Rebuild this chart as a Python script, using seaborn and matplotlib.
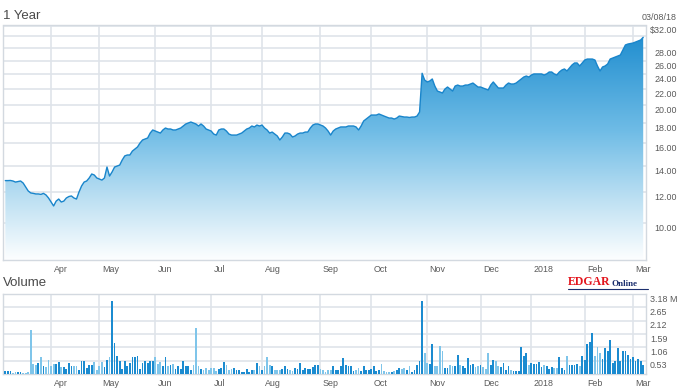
import numpy as np
import pandas as pd
import matplotlib
matplotlib.use("Agg")
import matplotlib.pyplot as plt
import seaborn as sns
from matplotlib.transforms import blended_transform_factory, ScaledTranslation
from matplotlib.colors import LinearSegmentedColormap
from matplotlib.ticker import NullLocator, FixedLocator

# ---------------- data ----------------
price = [12.83,
    12.83, 12.84, 12.80, 12.72, 12.76, 12.80, 12.65, 12.36, 12.07, 11.93,
    11.90, 11.86, 11.86, 11.83, 11.90, 11.79, 11.58, 11.31, 11.05, 11.37,
    11.51, 11.31, 11.37, 11.58, 11.68, 11.72, 11.58, 11.51, 12.00, 12.43,
    12.72, 12.80, 13.03, 13.34, 13.26, 13.03, 12.95, 12.87, 13.03, 13.90,
    13.18, 13.50, 13.90, 13.98, 14.06, 14.49, 14.84, 14.92, 14.92, 15.27,
    15.45, 15.64, 16.01, 16.30, 16.39, 16.49, 16.98, 17.29, 17.18, 17.08,
    16.98, 17.29, 17.49, 17.39, 17.39, 17.29, 17.29, 17.39, 17.49, 17.70,
    17.91, 18.01, 18.12, 18.01, 17.91, 17.70, 17.91, 17.70, 17.39, 17.29,
    17.18, 16.88, 16.78, 17.29, 17.39, 17.39, 17.18, 16.88, 16.78, 16.78,
    16.78, 16.88, 16.98, 17.18, 17.39, 17.49, 17.70, 17.60, 17.80, 17.70,
    17.80, 17.49, 17.29, 16.98, 17.08, 16.88, 16.69, 16.30, 16.59, 16.98,
    16.98, 16.88, 16.59, 16.69, 16.88, 16.98, 16.98, 17.08, 17.08, 17.49,
    17.80, 17.91, 17.91, 17.80, 17.70, 17.49, 17.18, 16.78, 17.18, 17.39,
    17.49, 17.60, 17.60, 17.60, 17.70, 17.70, 17.70, 17.60, 17.29, 17.70,
    18.23, 18.44, 18.66, 18.88, 18.88, 18.88, 19.00, 18.88, 18.77, 18.66,
    18.55, 18.55, 18.44, 18.55, 18.77, 18.72, 18.66, 18.66, 18.61, 18.66,
    18.66, 18.77, 19.22, 24.15, 23.21, 22.94, 23.07, 23.35, 22.40, 21.75,
    21.63, 21.50, 22.01, 22.27, 22.01, 21.75, 22.40, 22.53, 22.40, 22.40,
    22.53, 22.53, 22.67, 22.80, 22.53, 22.27, 22.27, 22.14, 22.01, 21.88,
    22.53, 22.94, 22.53, 22.14, 22.14, 22.14, 22.53, 22.80, 22.67, 22.67,
    22.80, 23.07, 23.35, 23.62, 23.76, 23.62, 23.90, 24.05, 24.05, 24.05,
    24.05, 23.90, 24.05, 24.33, 24.33, 24.05, 23.90, 24.33, 24.62, 24.77,
    24.48, 24.91, 25.36, 25.66, 25.66, 25.21, 25.66, 26.11, 26.26, 26.26,
    26.26, 26.11, 25.21, 24.48, 25.06, 25.21, 25.50, 26.26, 26.42, 26.57,
    26.73, 26.89, 27.70, 28.53, 28.69, 28.77, 28.86, 29.03, 29.20, 29.38,
    29.85]

volume = [  # millions of shares
    0.13, 0.11, 0.13, 0.04, 0.08, 0.08, 0.08, 0.05, 0.04, 0.08,
    1.75, 0.41, 0.37, 0.44, 0.69, 0.33, 0.26, 0.57, 0.33, 0.41,
    0.41, 0.47, 0.26, 0.29, 0.21, 0.44, 0.30, 0.33, 0.33, 0.17,
    0.50, 0.53, 0.24, 0.34, 0.37, 0.47, 0.17, 0.30, 0.47, 0.26,
    0.57, 0.69, 2.90, 1.23, 0.73, 0.53, 0.21, 0.53, 0.30, 0.45,
    0.66, 0.66, 0.73, 0.21, 0.45, 0.53, 0.42, 0.53, 0.53, 0.66,
    0.41, 0.47, 0.30, 0.69, 0.30, 0.37, 0.41, 0.21, 0.30, 0.21,
    0.53, 0.30, 0.30, 0.17, 0.34, 1.82, 0.33, 0.21, 0.17, 0.25,
    0.17, 0.25, 0.25, 0.13, 0.21, 0.24, 0.47, 0.37, 0.17, 0.21,
    0.24, 0.17, 0.17, 0.08, 0.08, 0.21, 0.08, 0.17, 0.17, 0.44,
    0.33, 0.17, 0.30, 0.69, 0.37, 0.33, 0.17, 0.17, 0.17, 0.21,
    0.33, 0.21, 0.17, 0.13, 0.24, 0.21, 0.44, 0.17, 0.24, 0.21,
    0.21, 0.26, 0.37, 0.37, 0.21, 0.17, 0.08, 0.17, 0.17, 0.30,
    0.17, 0.17, 0.30, 0.63, 0.37, 0.33, 0.30, 0.13, 0.17, 0.24,
    0.13, 0.33, 0.17, 0.17, 0.21, 0.33, 0.13, 0.17, 0.41, 0.13,
    0.08, 0.08, 0.08, 0.13, 0.17, 0.24, 0.21, 0.24, 0.17, 0.33,
    0.08, 0.17, 0.37, 0.53, 2.90,
    0.83, 0.44, 0.41, 1.19, 0.30, 0.30, 1.12, 0.90, 0.24, 0.24, 0.37, 0.30, 0.30, 0.76,
    0.37, 0.30, 0.24, 0.63, 0.37, 0.40, 0.26, 0.30, 0.37, 0.26, 0.21,
    0.83, 0.34, 0.57, 0.53, 0.30, 0.26, 0.44, 0.17, 0.30, 0.17,
    0.13, 0.13, 0.13, 1.09, 0.70, 0.83, 0.34, 0.44, 0.40, 0.40,
    0.47, 0.26, 0.37, 0.30, 0.21, 0.29, 0.24, 0.24, 0.66, 0.24,
    0.17, 0.70, 0.34, 0.34, 0.37, 0.40, 0.30, 0.70, 0.57, 1.19,
    1.27, 1.62, 0.70, 1.09, 0.83, 0.61, 1.05, 0.90, 1.36, 0.44,
    0.53, 1.05, 0.53, 0.90, 0.90, 0.76, 0.61, 0.66, 0.53, 0.61,
    0.53, 0.34]

# trading-day index of the first session of each month
month_start = [18, 37, 59, 81, 101, 124, 144, 166, 187, 207, 228, 247]
month_labels = ["Apr", "May", "Jun", "Jul", "Aug", "Sep", "Oct", "Nov",
                "Dec", "2018", "Feb", "Mar"]
price_grid = [10, 12, 14, 16, 18, 20, 22, 24, 26, 28, 30, 32]
price_labels = ["10.00", "12.00", "14.00", "16.00", "18.00", "20.00", "22.00",
                "24.00", "26.00", "28.00", "", "$32.00"]
vol_ticks = [0.53, 1.06, 1.59, 2.12, 2.65, 3.18]
vol_labels = ["0.53", "1.06", "1.59", "2.12", "2.65", "3.18 M"]
date_label = "03/08/18"

# ---------------- style ----------------
sns.set_style("white")
plt.rcParams['font.family'] = ['Liberation Sans', 'DejaVu Sans']

W, H = 682, 391
fig = plt.figure(figsize=(W / 100, H / 100), dpi=100)
fig.patch.set_facecolor("white")

def ax_rect(l, t, r, b):
    return [l / W, 1 - b / H, (r - l) / W, (b - t) / H]

GRID = "#dfe4ea"
SPINE = "#d3d9e0"
TXT = "#5a5a5a"
LINE = "#1985cb"
DARK = "#1b8bd0"
LIGHT = "#7fc5ea"
FS = 6.4

n = len(price)
idx = np.arange(n)
df = pd.DataFrame({"idx": idx, "price": price, "volume": volume})
df["dir"] = np.where(df["price"].diff().fillna(0) >= 0, "up", "down")

xlo, xhi = -0.8, n + 0.1

# ---------------- price panel ----------------
ax = fig.add_axes(ax_rect(3.3, 25.5, 646, 259.5))
ax.set_yscale("log")
ylo, yhi = 8.06, 32.0

cmap = LinearSegmentedColormap.from_list(
    "g", [(0.0, "#fdfeff"), (0.25, "#bfe1f3"), (0.55, "#6fbce6"), (1.0, "#1889cd")])
grad = np.linspace(0, 1, 256).reshape(-1, 1)
poly = ax.fill_between(df["idx"], df["price"], 6, facecolor="none", edgecolor="none")
im = ax.imshow(grad, extent=[0, 1, 0, 1], transform=ax.transAxes, origin="lower",
               aspect="auto", cmap=cmap, zorder=1, interpolation="bicubic")
im.set_clip_path(poly.get_paths()[0], transform=ax.transData)
sns.lineplot(data=df, x="idx", y="price", ax=ax, color=LINE, linewidth=1.0, zorder=3)

ax.set_xlim(xlo, xhi)
ax.set_ylim(ylo, yhi)
ax.yaxis.set_major_locator(FixedLocator(price_grid))
ax.yaxis.set_minor_locator(NullLocator())
ax.xaxis.set_major_locator(FixedLocator(month_start))
ax.xaxis.set_minor_locator(NullLocator())
ax.tick_params(left=False, bottom=False, labelleft=False, labelbottom=False)
ax.grid(True, color=GRID, linewidth=1.2, zorder=0)
ax.set_axisbelow(True)
ax.set_xlabel("")
ax.set_ylabel("")
for s in ax.spines.values():
    s.set_color(SPINE)
    s.set_linewidth(1.0)

ytr = blended_transform_factory(ax.transAxes, ax.transData)
for v, lab in zip(price_grid, price_labels):
    if lab:
        ax.text(1.0, v, lab, transform=ytr + ScaledTranslation(31 / 100, -5.5 / 100, fig.dpi_scale_trans),
                ha="right", va="center", fontsize=FS, color=TXT, clip_on=False)
xtr = blended_transform_factory(ax.transData, ax.transAxes)
for m, lab in zip(month_start, month_labels):
    ax.text(m, 0.0, lab, transform=xtr + ScaledTranslation(2.5 / 100, -10.5 / 100, fig.dpi_scale_trans),
            ha="left", va="center", fontsize=FS, color=TXT, clip_on=False)

# ---------------- volume panel ----------------
axv = fig.add_axes(ax_rect(3.3, 294, 646, 374))
sns.barplot(data=df, x="idx", y="volume", hue="dir", palette={"up": DARK, "down": LIGHT},
            native_scale=True, dodge=False, width=0.7, legend=False, ax=axv,
            linewidth=0, saturation=1, zorder=3)
axv.set_xlim(xlo, xhi)
axv.set_ylim(0, 3.18)
axv.yaxis.set_major_locator(FixedLocator(vol_ticks))
axv.xaxis.set_major_locator(FixedLocator(month_start))
axv.tick_params(left=False, bottom=False, labelleft=False, labelbottom=False)
axv.grid(True, color=GRID, linewidth=1.2, zorder=0)
axv.set_axisbelow(True)
axv.set_xlabel("")
axv.set_ylabel("")
for s in axv.spines.values():
    s.set_color(SPINE)
    s.set_linewidth(1.0)

vtr = blended_transform_factory(axv.transAxes, axv.transData)
for v, lab in zip(vol_ticks, vol_labels):
    axv.text(1.0, v, lab, transform=vtr + ScaledTranslation(4 / 100, -5 / 100, fig.dpi_scale_trans),
             ha="left", va="center", fontsize=FS, color=TXT, clip_on=False)
xtr2 = blended_transform_factory(axv.transData, axv.transAxes)
for m, lab in zip(month_start, month_labels):
    axv.text(m, 0.0, lab, transform=xtr2 + ScaledTranslation(2.5 / 100, -9 / 100, fig.dpi_scale_trans),
             ha="left", va="center", fontsize=FS, color=TXT, clip_on=False)

# ---------------- titles ----------------
fig.text(3 / W, 1 - 16 / H, "1 Year", fontsize=9.5, color="#4a4a4a", ha="left", va="center")
fig.text(677 / W, 1 - 17 / H, date_label, fontsize=FS, color=TXT, ha="right", va="center")
fig.text(3 / W, 1 - 283 / H, "Volume", fontsize=9.5, color="#4a4a4a", ha="left", va="center")
fig.text(568 / W, 1 - 282 / H, "EDGAR", fontsize=8.5, color="#e3141c", ha="left", va="center",
         family=["Liberation Serif", "DejaVu Serif"], weight="bold")
fig.text(611 / W, 1 - 284 / H, "Online", fontsize=6.5, color="#1c2f6e", ha="left", va="center",
         family=["Liberation Serif", "DejaVu Serif"], weight="bold")
fig.add_artist(plt.Line2D([568 / W, 648 / W], [1 - 289 / H, 1 - 289 / H], color="#1c2f6e", lw=0.8))

fig.savefig("out.png", dpi=100, facecolor="white")
